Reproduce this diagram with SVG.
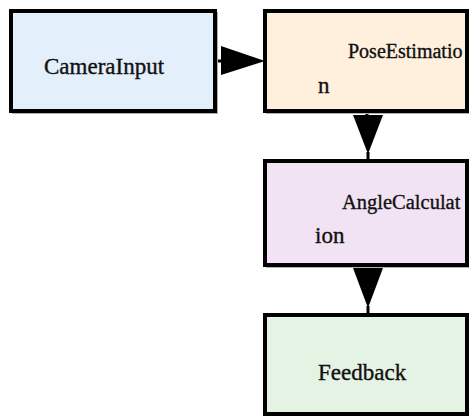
<svg xmlns="http://www.w3.org/2000/svg" width="469" height="416" viewBox="0 0 469 416">
<style>
.box{stroke:#000;stroke-width:4}
.shadow{fill:none;stroke:#b0b0b0;stroke-width:2}
.lbl{font-family:"Liberation Serif","Times New Roman",serif;font-size:23px;fill:#111;stroke:#111;stroke-width:0.35}
.edge{stroke:#000;stroke-width:3;fill:none}
.head{fill:#000}
</style>
<rect width="469" height="416" fill="#fff"/>
<g id="connectors">
<line class="edge" x1="216" y1="61" x2="222" y2="61"/>
<polygon class="head" points="221,46 265,61 221,75"/>
<line class="edge" x1="367" y1="112" x2="367" y2="116"/>
<polygon class="head" points="353,115 383,115 368,154"/>
<line class="edge" x1="368" y1="152" x2="368" y2="160"/>
<line class="edge" x1="367" y1="266" x2="367" y2="269"/>
<polygon class="head" points="353,268 383,268 368,308"/>
<line class="edge" x1="368" y1="306" x2="368" y2="314"/>
</g>
<g id="CameraInput">
<rect class="shadow" x="13" y="13" width="204" height="100"/>
<rect class="box" x="11" y="11" width="204" height="100" fill="#E3EFFA"/>
<text class="lbl" x="44" y="74">CameraInput</text>
</g>
<g id="PoseEstimation">
<rect class="shadow" x="267" y="13" width="202" height="100"/>
<rect class="box" x="265" y="11" width="202" height="100" fill="#FEF0DD"/>
<text class="lbl" x="348" y="58" style="font-size:20px">PoseEstimatio</text>
<text class="lbl" x="318" y="93">n</text>
</g>
<g id="AngleCalculation">
<rect class="shadow" x="267" y="163" width="202" height="104"/>
<rect class="box" x="265" y="161" width="202" height="104" fill="#F1E3F4"/>
<text class="lbl" x="342" y="209" style="font-size:20.5px">AngleCalculat</text>
<text class="lbl" x="315" y="243">ion</text>
</g>
<g id="Feedback">
<rect class="shadow" x="267" y="317" width="202" height="99"/>
<rect class="box" x="265" y="315" width="202" height="99" fill="#E5F3E5"/>
<text class="lbl" x="318" y="380">Feedback</text>
</g>
</svg>
